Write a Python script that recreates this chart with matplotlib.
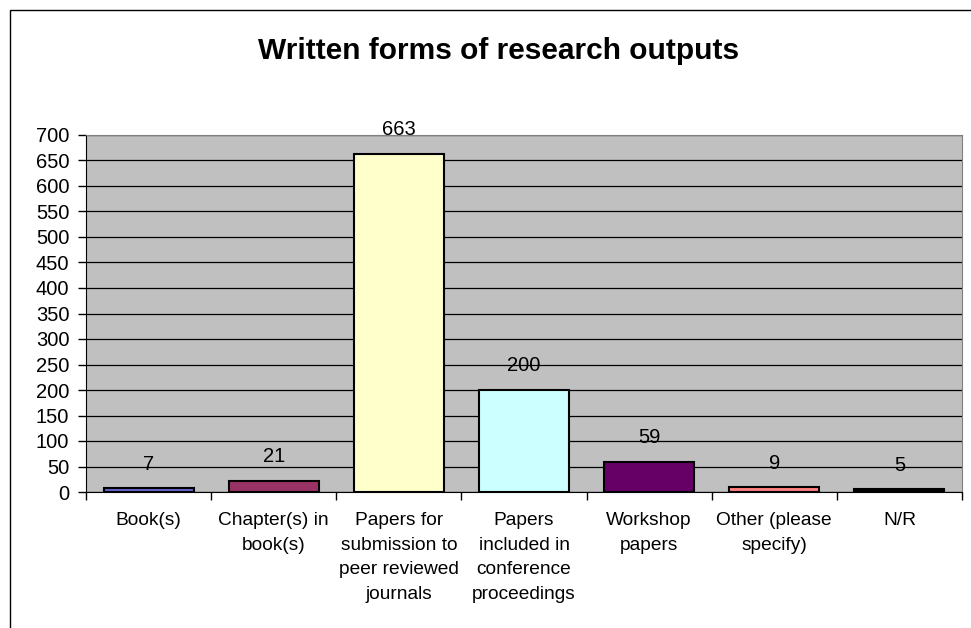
import matplotlib.pyplot as plt
from matplotlib.patches import Rectangle

plt.rcParams['font.family'] = ['Liberation Sans', 'DejaVu Sans']

# Chart data
categories = ['Book(s)', 'Chapter(s) in\nbook(s)', 'Papers for\nsubmission to\npeer reviewed\njournals',
              'Papers\nincluded in\nconference\nproceedings', 'Workshop\npapers',
              'Other (please\nspecify)', 'N/R']
counts = [7, 21, 663, 200, 59, 9, 5]
bar_colors = ['#6666CC', '#993366', '#FFFFCC', '#CCFFFF', '#660066', '#FF8080', '#000000']

fig = plt.figure(figsize=(9.71, 6.28), dpi=100)
# outer chart border (only top and left visible in the original)
fig.patches.append(Rectangle((10 / 971, -0.1), 1.2, 1 - 10 / 628 + 0.1,
                             transform=fig.transFigure, fill=False,
                             edgecolor='black', linewidth=1))

ax = fig.add_axes([86 / 971, 136 / 628, 876 / 971, 357 / 628])
ax.set_facecolor('#C0C0C0')

x = list(range(len(categories)))
ax.bar(x, counts, width=0.72, color=bar_colors, edgecolor='black', linewidth=1.5, zorder=3)

for xi, v in zip(x, counts):
    ax.annotate(str(v), (xi, v), xytext=(0, 17.5), textcoords='offset points',
                ha='center', va='center', fontsize=14.5, zorder=4)

ax.set_xlim(-0.5, len(categories) - 0.5)
ax.set_ylim(0, 700)
ax.set_yticks(range(0, 701, 50))
ax.tick_params(axis='y', labelsize=14.5, length=6, width=1, direction='out', pad=6)
ax.yaxis.grid(True, color='black', linewidth=0.9, zorder=1)
ax.set_axisbelow(True)

# category boundary ticks on x axis, labels centered in each slot
ax.set_xticks([i - 0.5 for i in range(len(categories) + 1)])
ax.set_xticklabels([])
ax.tick_params(axis='x', length=6, width=1, direction='out')
for xi, lab in zip(x, categories):
    ax.text(xi, -0.056, lab, transform=ax.get_xaxis_transform(), ha='center', va='top',
            fontsize=13.8, linespacing=1.58)

for s in ['top', 'right']:
    ax.spines[s].set_color('#808080')
for s in ['left', 'bottom']:
    ax.spines[s].set_color('black')

fig.text(499 / 971, 1 - 51 / 628, 'Written forms of research outputs', ha='center', va='center',
         fontsize=21.5, fontweight='bold')

fig.savefig('out.png', dpi=100)
